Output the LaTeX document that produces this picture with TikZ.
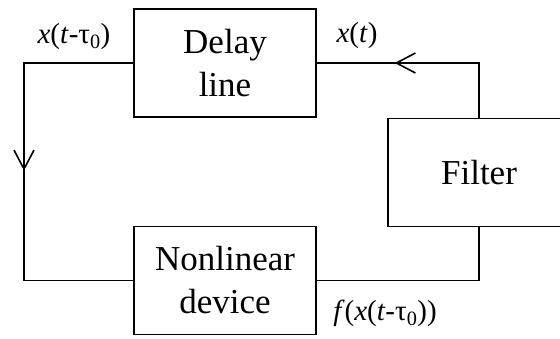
\documentclass[tikz,border=0pt]{standalone}
\usepackage{fontspec}
\setmainfont{Liberation Serif}
\usetikzlibrary{arrows.meta,decorations.markings}
\begin{document}
\begin{tikzpicture}[x=1pt,y=-1pt,
  box/.style={draw,line width=1.6pt,minimum width=182pt,minimum height=108pt,inner sep=0pt,
    align=center,font=\rmfamily\fontsize{35}{43}\selectfont},
  conn/.style={line width=1.6pt},
  barb/.tip={Straight Barb[length=19pt,width=20pt,line width=1.6pt]},
  lbl/.style={font=\rmfamily\fontsize{29}{34}\selectfont,inner sep=0pt}]
\useasboundingbox (0,0) rectangle (560,338);
\clip (0,0) rectangle (560,338);
\node[box] (delay) at (225,63) {Delay\\line};
\node[box] (nl) at (225,280.5) {Nonlinear\\device};
\node[box] (filter) at (479,172.5) {Filter};
\draw[conn,postaction={decorate},decoration={markings,mark=at position 139pt with {\arrow{barb}}}]
  (filter.north) |- (delay.east);
\draw[conn,postaction={decorate},decoration={markings,mark=at position 217pt with {\arrow{barb}}}]
  (delay.west) -| (24,170) |- (nl.west);
\draw[conn] (nl.east) -| (filter.south);
\node[lbl] (l1) at (74,37) {\textit{x}(\textit{t}-τ\textsubscript{0})};
\node[lbl] (l2) at (357,36) {\textit{x}(\textit{t})};
\node[lbl] (l3) at (385,313) {\textit{f}(\textit{x}(\textit{t}-τ\textsubscript{0}))};
\end{tikzpicture}
\end{document}
